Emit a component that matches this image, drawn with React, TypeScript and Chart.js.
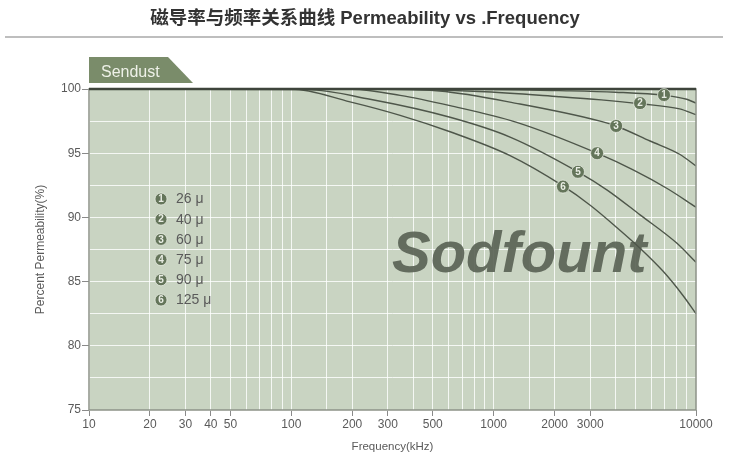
import React, { useEffect, useRef } from 'react';
import { Chart, registerables } from 'chart.js';

Chart.register(...registerables);

// permeability curves, frequency in kHz, value in % of initial
const freq26 = [10, 850, 2100, 4000, 7000, 9000, 10000];
const perm26 = [100, 99.97, 99.87, 99.75, 99.5, 99.2, 98.9];
const freq40 = [10, 300, 850, 2100, 3400, 5300, 8300, 10000];
const perm40 = [100, 99.98, 99.8, 99.4, 99.15, 98.85, 98.45, 98.0];
const freq60 = [10, 250, 540, 1350, 3360, 4030, 5930, 8340, 10000];
const perm60 = [100, 99.99, 99.84, 98.83, 97.5, 97.12, 95.95, 94.9, 94.0];
const freq75 = [10, 200, 345, 609, 1300, 3245, 4890, 7200, 10000];
const perm75 = [100, 99.97, 99.5, 98.7, 97.4, 95.0, 93.7, 92.25, 90.8];
const freq90 = [10, 120, 245, 609, 1205, 2610, 3640, 5290, 8030, 10000];
const perm90 = [100, 99.95, 99.2, 97.8, 96.26, 93.55, 92.13, 90.2, 88.0, 86.5];
const freq125 = [10, 100, 195, 345, 609, 1205, 2200, 3000, 4070, 5290, 6880, 8640, 10000];
const perm125 = [100, 100, 99.0, 97.95, 96.67, 94.81, 92.45, 90.95, 89.2, 87.6, 85.8, 83.9, 82.5];

const seriesNames = ['26 μ', '40 μ', '60 μ', '75 μ', '90 μ', '125 μ'];
// where the numbered markers sit on each curve
const markerFreq = [6950, 5290, 4030, 3245, 2610, 2200];
const markerPerm = [99.53, 98.9, 97.12, 95.0, 93.55, 92.4];

const xTickLabels = [10, 20, 30, 40, 50, 100, 200, 300, 500, 1000, 2000, 3000, 10000];
const yTickLabels = [75, 80, 85, 90, 95, 100];

const FONT = "'Liberation Sans', Arial, sans-serif";
const TEXT = '#5a5a5a';
const LINE = 'rgb(78,86,74)';
const BADGE = 'rgb(100,117,90)';

const isLabelled = (v: number) => xTickLabels.some((t) => Math.abs(t - v) < t * 1e-6);

function badge(ctx: CanvasRenderingContext2D, x: number, y: number, n: number, r: number) {
  ctx.beginPath();
  ctx.arc(x, y, r, 0, Math.PI * 2);
  ctx.fillStyle = BADGE;
  ctx.fill();
  ctx.lineWidth = 0.8;
  ctx.strokeStyle = 'rgba(235,240,230,0.9)';
  ctx.stroke();
  ctx.fillStyle = '#e9ede4';
  ctx.font = `bold ${Math.round(r * 1.6)}px ${FONT}`;
  ctx.textAlign = 'center';
  ctx.textBaseline = 'middle';
  ctx.fillText(String(n), x, y + 0.5);
}

const decor = {
  id: 'decor',
  beforeDraw(chart: any) {
    const { ctx, chartArea: a } = chart;
    ctx.save();
    ctx.fillStyle = '#ffffff';
    ctx.fillRect(0, 0, chart.width, chart.height);
    ctx.fillStyle = '#c9d4c2';
    ctx.fillRect(a.left, a.top, a.right - a.left, a.bottom - a.top);
    ctx.restore();
  },
  beforeDatasetsDraw(chart: any) {
    const { ctx } = chart;
    ctx.save();
    ctx.fillStyle = 'rgba(90,99,86,0.92)';
    ctx.font = `italic bold 58px ${FONT}`;
    ctx.textAlign = 'left';
    ctx.textBaseline = 'alphabetic';
    ctx.fillText('Sodfount', 392, 272);
    ctx.restore();
  },
  afterDraw(chart: any) {
    const { ctx, chartArea: a, scales } = chart;
    ctx.save();
    // frame
    ctx.strokeStyle = '#8d9388';
    ctx.lineWidth = 1.5;
    ctx.strokeRect(a.left, a.top, a.right - a.left, a.bottom - a.top);
    ctx.strokeStyle = '#3e443b';
    ctx.lineWidth = 2.5;
    ctx.beginPath();
    ctx.moveTo(a.left, a.top);
    ctx.lineTo(a.right, a.top);
    ctx.stroke();

    // numbered markers on the curves
    markerFreq.forEach((f, i) => {
      badge(ctx, scales.x.getPixelForValue(f), scales.y.getPixelForValue(markerPerm[i]), i + 1, 6.5);
    });

    // legend
    seriesNames.forEach((name, i) => {
      const y = 199 + i * 20.2;
      badge(ctx, 161, y, i + 1, 6);
      ctx.fillStyle = TEXT;
      ctx.font = `14px ${FONT}`;
      ctx.textAlign = 'left';
      ctx.textBaseline = 'middle';
      ctx.fillText(name, 176, y + 0.5);
    });

    // material tab
    ctx.fillStyle = 'rgb(122,140,106)';
    ctx.beginPath();
    ctx.moveTo(a.left, 83);
    ctx.lineTo(a.left, 57);
    ctx.lineTo(168, 57);
    ctx.lineTo(193, 83);
    ctx.closePath();
    ctx.fill();
    ctx.fillStyle = '#eef1e8';
    ctx.font = `16px ${FONT}`;
    ctx.textAlign = 'left';
    ctx.textBaseline = 'alphabetic';
    ctx.fillText('Sendust', 101, 77);

    // heading and rule
    ctx.fillStyle = '#333333';
    ctx.font = `bold 18.5px ${FONT}, 'Noto Sans CJK SC'`;
    ctx.textAlign = 'center';
    ctx.fillText('磁导率与频率关系曲线 Permeability vs .Frequency', 365, 24);
    ctx.strokeStyle = '#a8a8a8';
    ctx.lineWidth = 1.5;
    ctx.beginPath();
    ctx.moveTo(5, 37);
    ctx.lineTo(723, 37);
    ctx.stroke();
    ctx.restore();
  },
};

const curve = (xs: number[], ys: number[], label: string) => ({
  label,
  data: xs.map((x, i) => ({ x, y: ys[i] })),
  borderColor: LINE,
  borderWidth: 1.4,
  pointRadius: 0,
  cubicInterpolationMode: 'monotone' as const,
});

const App = () => {
  const canvasRef = useRef<HTMLCanvasElement>(null);

  useEffect(() => {
    document.body.style.margin = '0';
    if (!canvasRef.current) return;
    const chart = new Chart(canvasRef.current, {
      type: 'line',
      data: {
        datasets: [
          curve(freq26, perm26, seriesNames[0]),
          curve(freq40, perm40, seriesNames[1]),
          curve(freq60, perm60, seriesNames[2]),
          curve(freq75, perm75, seriesNames[3]),
          curve(freq90, perm90, seriesNames[4]),
          curve(freq125, perm125, seriesNames[5]),
        ],
      },
      options: {
        animation: false,
        responsive: false,
        layout: { padding: { left: 0, right: 60, top: 89, bottom: 0 } },
        plugins: { legend: { display: false }, tooltip: { enabled: false } },
        scales: {
          x: {
            type: 'logarithmic',
            min: 10,
            max: 10000,
            afterFit: (s: any) => {
              s.height = 58;
            },
            border: { display: false },
            grid: {
              color: 'rgba(255,255,255,0.8)',
              lineWidth: 1,
              tickLength: 6,
              tickColor: (c: any) => (c.tick && isLabelled(c.tick.value) ? '#8a8a8a' : 'rgba(0,0,0,0)'),
            },
            ticks: {
              autoSkip: false,
              maxRotation: 0,
              padding: 1,
              color: TEXT,
              font: { family: FONT, size: 12 },
              callback: (v: any) => (isLabelled(Number(v)) ? String(v) : ''),
            },
            title: {
              display: true,
              text: 'Frequency(kHz)',
              color: TEXT,
              font: { family: FONT, size: 11.5 },
              padding: { top: 0, bottom: 14 },
            },
          },
          y: {
            min: 75,
            max: 100,
            afterFit: (s: any) => {
              s.width = 89;
            },
            border: { display: false },
            grid: {
              color: 'rgba(255,255,255,0.8)',
              lineWidth: 1,
              tickLength: 7,
              tickColor: (c: any) =>
                c.tick && yTickLabels.includes(c.tick.value) ? '#8a8a8a' : 'rgba(0,0,0,0)',
            },
            ticks: {
              stepSize: 2.5,
              padding: 1,
              color: TEXT,
              font: { family: FONT, size: 12 },
              callback: (v: any) => (yTickLabels.includes(Number(v)) ? String(v) : ''),
            },
            title: {
              display: true,
              text: 'Percent Permeability(%)',
              color: TEXT,
              font: { family: FONT, size: 12 },
              padding: { top: 33, bottom: 0 },
            },
          },
        },
      },
      plugins: [decor],
    });
    return () => {
      chart.destroy();
    };
  }, []);

  return <canvas ref={canvasRef} width={756} height={468} />;
};

export default App;
